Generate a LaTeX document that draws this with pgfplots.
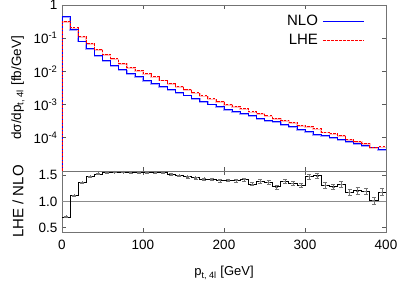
\documentclass[border=0pt]{standalone}
\usepackage{fontspec}
\setmainfont{Liberation Sans}
\usepackage{pgfplots}
\pgfplotsset{compat=1.18}
\usepackage{pgfplotstable}

\pgfplotstableread{
x nlo lhe
0 1e-7 1e-7
0 0.454 0.3205
10 0.187 0.2085
20 0.083 0.1129
30 0.0486 0.0717
40 0.0305 0.0465
50 0.0211 0.0327
60 0.0156 0.0243
70 0.0112 0.01747
80 0.0087 0.01353
90 0.00689 0.01068
100 0.00546 0.00846
110 0.00443 0.00689
120 0.00359 0.00555
130 0.00295 0.00448
140 0.00237 0.00353
150 0.00196 0.00288
160 0.00159 0.002306
170 0.00129 0.001845
180 0.00105 0.001491
190 0.00089 0.001246
200 0.00074 0.00104
210 0.00063 0.000882
220 0.00053 0.000753
230 0.00046 0.000614
240 0.00039 0.00054
250 0.000335 0.000459
260 0.000305 0.00039
270 0.000248 0.000343
280 0.000220 0.000296
290 0.000183 0.00024
300 0.000152 0.000224
310 0.000126 0.000188
320 0.000115 0.000151
330 0.000105 0.000134
340 0.0000912 0.000121
350 0.0000757 0.0000893
360 0.0000658 0.0000793
370 0.0000573 0.0000688
380 0.0000521 0.0000531
390 0.0000454 0.0000536
400 0.0000454 0.0000536
}\spectrum

\pgfplotstableread{
x r
0 0.706
10 1.115
20 1.36
30 1.475
40 1.525
50 1.55
60 1.56
70 1.56
80 1.555
90 1.55
100 1.55
110 1.555
120 1.545
130 1.52
140 1.49
150 1.47
160 1.45
170 1.43
180 1.42
190 1.40
200 1.405
210 1.40
220 1.42
230 1.335
240 1.385
250 1.37
260 1.28
270 1.385
280 1.345
290 1.31
300 1.475
310 1.49
320 1.31
330 1.28
340 1.325
350 1.18
360 1.205
370 1.20
380 1.02
390 1.18
400 1.18
}\ratiostep

\pgfplotstableread{
x r e
5 0.706 0.012
15 1.115 0.012
25 1.36 0.012
35 1.475 0.012
45 1.525 0.012
55 1.55 0.012
65 1.56 0.012
75 1.56 0.012
85 1.555 0.012
95 1.55 0.014
105 1.55 0.015
115 1.555 0.015
125 1.545 0.016
135 1.52 0.017
145 1.49 0.018
155 1.47 0.019
165 1.45 0.02
175 1.43 0.022
185 1.42 0.024
195 1.40 0.025
205 1.405 0.027
215 1.40 0.028
225 1.42 0.03
235 1.335 0.032
245 1.385 0.034
255 1.37 0.036
265 1.28 0.038
275 1.385 0.04
285 1.345 0.042
295 1.31 0.044
305 1.475 0.05
315 1.49 0.05
325 1.31 0.05
335 1.28 0.052
345 1.325 0.055
355 1.18 0.057
365 1.205 0.06
375 1.20 0.06
385 1.02 0.065
395 1.18 0.065
}\ratiopts

\begin{document}
\fontsize{13}{15}\selectfont
\begin{tikzpicture}
\pgfplotsset{
  every axis/.append style={
    scale only axis,
    width=324pt,
    xmin=0, xmax=400,
    axis line style={black!55},
    tick style={black!65, line width=0.6pt},
    major tick length=4pt,
    tick align=inside,
    xtick={0,100,200,300,400},
    tick label style={font=\fontsize{13.5}{15}\selectfont},
  },
}
\begin{axis}[
  name=upper,
  at={(0pt,61pt)}, anchor=south west,
  height=166pt,
  ymode=log,
  ymin=1e-5, ymax=1,
  ytick={1e-4,1e-3,1e-2,1e-1,1},
  yticklabels={10\textsuperscript{-4},10\textsuperscript{-3},10\textsuperscript{-2},10\textsuperscript{-1},1},
  yminorticks=false,
  xticklabels=\empty,
  ylabel={dσ/dp\textsubscript{t, 4l} [fb/GeV]},
  every axis y label/.style={at={(axis description cs:0,0.5)}, xshift=-44pt, rotate=90, anchor=center, font=\fontsize{13.5}{15}\selectfont},
  legend style={draw=none, fill=none, at={(axis description cs:0.944,0.975)}, anchor=north east, row sep=0pt,
    font=\fontsize{15}{17}\selectfont, nodes={inner ysep=3.5pt, inner xsep=4.5pt}},
  legend cell align=right,
  legend plot pos=right,
  legend image code/.code={\draw[#1] (0pt,0pt) -- (1.45cm,0pt);},
]
\addlegendimage{draw=blue, line width=0.8pt}
\addlegendentry{NLO}
\addlegendimage{draw=red, line width=0.9pt, dash pattern=on 3pt off 1pt}
\addlegendentry{LHE}
\addplot[const plot mark left, blue!35, line width=1.6pt, yshift=-0.8pt, forget plot] table[x=x, y=nlo] {\spectrum};
\addplot[const plot mark left, red!25, line width=1.6pt, yshift=-0.8pt, forget plot] table[x=x, y=lhe] {\spectrum};
\addplot[const plot mark left, blue, line width=0.7pt, forget plot] table[x=x, y=nlo] {\spectrum};
\addplot[const plot mark left, red, line width=0.7pt, dash pattern=on 2.5pt off 1.2pt, forget plot] table[x=x, y=lhe] {\spectrum};
\end{axis}
\begin{axis}[
  name=lower,
  at={(0pt,0pt)}, anchor=south west,
  height=61pt,
  ymin=0.42, ymax=1.58,
  ytick={0.5,1.0,1.5},
  yticklabels={0.5,1.0,1.5},
  xticklabels={0,100,200,300,400},
  xlabel={p\textsubscript{t, 4l} [GeV]},
  ylabel={LHE / NLO},
  every axis y label/.style={at={(axis description cs:0,0.5)}, xshift=-44pt, rotate=90, anchor=center, font=\fontsize{15}{17}\selectfont},
  every axis x label/.style={at={(axis description cs:0.5,0)}, yshift=-41pt, anchor=center},
  xticklabel style={yshift=-4pt},
]
\addplot[black!45, line width=0.8pt, forget plot] coordinates {(0,1) (400,1)};
\addplot[const plot mark left, black, line width=0.7pt] table[x=x, y=r] {\ratiostep};
\addplot[only marks, mark=+, mark size=1.5pt, black!55,
  error bars/.cd, y dir=both, y explicit, error bar style={black!55, line width=0.5pt},
  error mark options={black!55, mark size=2pt, rotate=90}]
  table[x=x, y=r, y error=e] {\ratiopts};
\end{axis}
\pgfresetboundingbox
\useasboundingbox (-62pt,-51pt) rectangle (337pt,232pt);
\end{tikzpicture}
\end{document}
